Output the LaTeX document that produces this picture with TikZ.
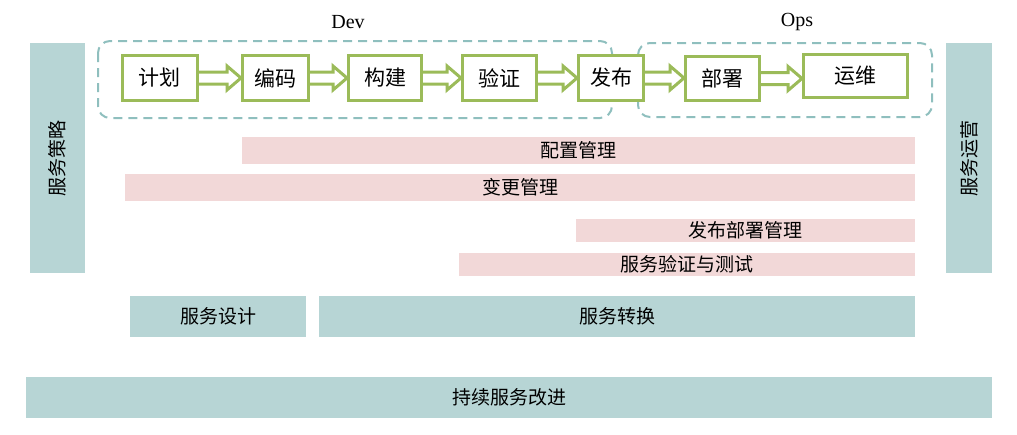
\documentclass[tikz,border=0pt]{standalone}
\usepackage{fontspec}
\setmainfont{Liberation Serif}
\newfontfamily\cjk{Noto Sans CJK SC}
\usetikzlibrary{calc}
\definecolor{tealbar}{HTML}{B7D5D5}
\definecolor{pinkbar}{HTML}{F2D8D8}
\definecolor{grnline}{HTML}{9BBB59}
\definecolor{dashcol}{HTML}{8FBFBE}
\newcommand\blockarrow[2]{%
  \draw[blockarr] let \p1=(#1.east), \p2=(#2.west) in
    (\x1,\y1+6pt) -- (\x2-14pt,\y1+6pt) -- (\x2-14pt,\y1+12pt) -- (\x2,\y1)
    -- (\x2-14pt,\y1-12pt) -- (\x2-14pt,\y1-6pt) -- (\x1,\y1-6pt);}
\begin{document}
\begin{tikzpicture}[x=1pt,y=-1pt,
  tbar/.style={fill=tealbar, inner sep=0, font=\cjk\fontsize{19}{19}\selectfont},
  pbar/.style={fill=pinkbar, inner sep=0, font=\cjk\fontsize{19}{19}\selectfont},
  procbox/.style={draw=grnline, line width=3pt, fill=white, inner sep=0, minimum height=45pt, font=\cjk\fontsize{21}{22}\selectfont},
  blockarr/.style={draw=grnline, line width=3pt, line join=miter},
  dashbox/.style={draw=dashcol, line width=2pt, dash pattern=on 9pt off 6pt, rounded corners=12pt},
  grouplabel/.style={font=\fontsize{20}{20}\selectfont, inner sep=0}]
\useasboundingbox (0,0) rectangle (1017,434);
% group frames
\draw[dashbox] (98,41) rectangle (612,118);
\draw[dashbox] (638,43) rectangle (932,117);
\node[grouplabel] (devlbl) at (348,22) {Dev};
\node[grouplabel] (opslbl) at (797,22) {Ops};
% side bars
\node[tbar, rotate=90, minimum width=230pt, minimum height=55pt] (strat) at (57.5,158) {服务策略};
\node[tbar, rotate=90, minimum width=230pt, minimum height=46pt] (oper) at (969,158) {服务运营};
% pink bars
\node[pbar, minimum width=673pt, minimum height=27pt] (cfg) at (578.5,150.5) {配置管理};
\node[pbar, minimum width=790pt, minimum height=27pt] (chg) at (520,187.5) {变更管理};
\node[pbar, minimum width=339pt, minimum height=23pt] (rel) at (745.5,230.5) {发布部署管理};
\node[pbar, minimum width=456pt, minimum height=23pt] (val) at (687,264.5) {服务验证与测试};
% teal bars
\node[tbar, minimum width=176pt, minimum height=41pt] (design) at (218,316.5) {服务设计};
\node[tbar, minimum width=596pt, minimum height=41pt] (trans) at (617,316.5) {服务转换};
\node[tbar, minimum width=966pt, minimum height=41pt] (csi) at (509,397.5) {持续服务改进};
% process boxes
\node[procbox, minimum width=75pt] (plan) at (159.5,78) {计划};
\node[procbox, minimum width=66pt] (code) at (275.5,78) {编码};
\node[procbox, minimum width=73pt] (build) at (385,78) {构建};
\node[procbox, minimum width=74pt] (verify) at (499.5,78) {验证};
\node[procbox, minimum width=65pt] (release) at (611,78) {发布};
\node[procbox, minimum width=74pt, minimum height=44pt] (deploy) at (722.5,78.5) {部署};
\node[procbox, minimum width=104pt, minimum height=43pt] (run) at (855.5,76) {运维};
% block arrows
\blockarrow{plan}{code}
\blockarrow{code}{build}
\blockarrow{build}{verify}
\blockarrow{verify}{release}
\blockarrow{release}{deploy}
\blockarrow{deploy}{run}
\end{tikzpicture}
\end{document}
